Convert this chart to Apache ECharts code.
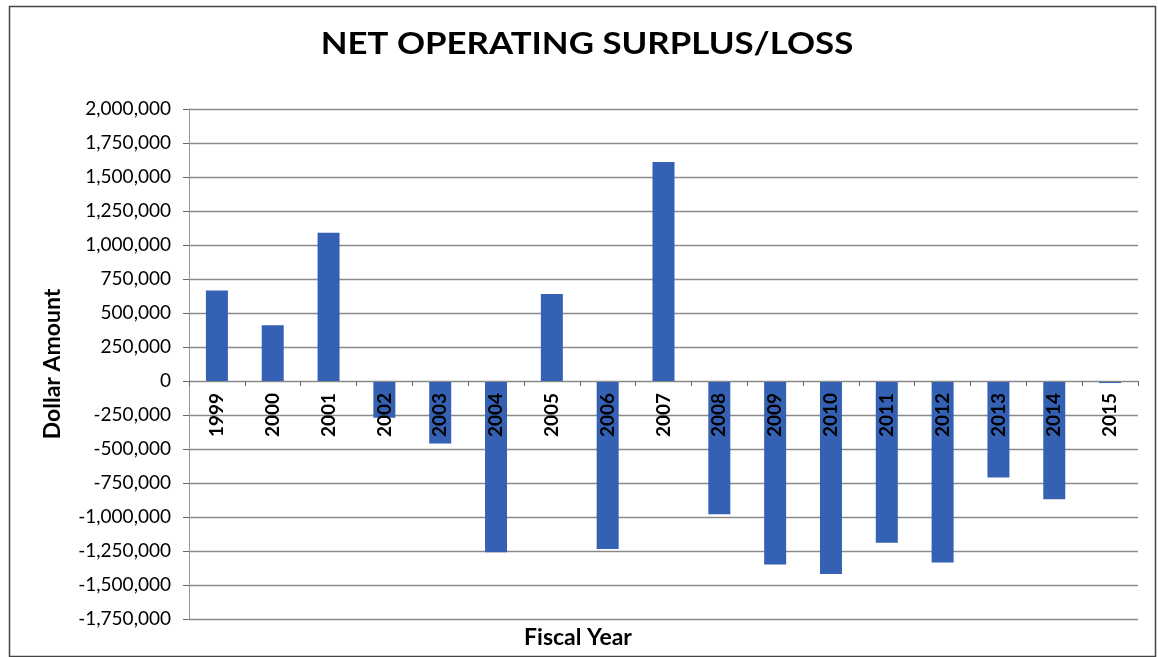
<!DOCTYPE html>
<html>
<head>
<meta charset="utf-8">
<script src="https://cdn.jsdelivr.net/npm/echarts@6/dist/echarts.min.js"></script>
<style>html,body{margin:0;padding:0;background:#fff}#c{width:1158px;height:657px}</style>
</head>
<body>
<div id="c"></div>
<script>
const categories = ['1999','2000','2001','2002','2003','2004','2005','2006','2007','2008','2009','2010','2011','2012','2013','2014','2015'];
const netValues = [665000, 410000, 1090000, -270000, -460000, -1260000, 640000, -1235000, 1610000, -980000, -1350000, -1420000, -1190000, -1335000, -710000, -870000, -15000];
const titleText = 'NET OPERATING SURPLUS/LOSS';
const yAxisName = 'Dollar Amount';
const xAxisName = 'Fiscal Year';
const yMin = -1750000, yMax = 2000000, yStep = 250000;

const chart = echarts.init(document.getElementById('c'), null, {renderer: 'canvas'});
const FONT = 'Lato, "Open Sans", sans-serif';
const gridTop = 109, gridBottom = 38, H = 657;
const plotH = H - gridTop - gridBottom;
// distance from grid bottom edge up to the zero line
const zeroFromBottom = plotH * (0 - yMin) / (yMax - yMin);

chart.setOption({
  animation: false,
  backgroundColor: '#ffffff',
  graphic: [{
    type: 'rect', left: 7, top: 4, shape: {x: 0, y: 0, width: 1146, height: 650},
    style: {fill: 'none', stroke: '#444', lineWidth: 1.5}, silent: true
  }, {
    type: 'text', x: 587, y: 44, scaleX: 1.16, silent: true,
    style: {text: titleText, fontFamily: FONT, fontWeight: 'bold', fontSize: 30, fill: '#000',
      textAlign: 'center', textVerticalAlign: 'middle'}
  }, {
    type: 'text', x: 578, y: 638, silent: true,
    style: {text: xAxisName, fontFamily: FONT, fontWeight: 'bold', fontSize: 23, fill: '#000',
      textAlign: 'center', textVerticalAlign: 'middle'}
  }],
  grid: {left: 189, right: 20, top: gridTop, bottom: gridBottom, containLabel: false, outerBoundsMode: 'none'},
  xAxis: {
    type: 'category', data: categories, position: 'bottom', offset: -zeroFromBottom, z: 10,
    axisLine: {onZero: false, lineStyle: {color: '#888', width: 1}},
    axisTick: {show: true, length: 5, lineStyle: {color: '#666'}},
    axisLabel: {rotate: 90, fontFamily: FONT, fontWeight: 'bold', fontSize: 19, color: '#000', margin: 12}
  },
  yAxis: {
    type: 'value', min: yMin, max: yMax, interval: yStep,
    name: yAxisName, nameLocation: 'middle', nameGap: 125, nameRotate: 90,
    nameTextStyle: {fontFamily: FONT, fontWeight: 'bold', fontSize: 23, color: '#000'},
    axisLine: {show: true, lineStyle: {color: '#999'}},
    axisTick: {show: true, length: 6, lineStyle: {color: '#666'}},
    axisLabel: {
      fontFamily: FONT, fontSize: 19, color: '#000', margin: 18,
      formatter: v => v.toLocaleString('en-US')
    },
    splitLine: {lineStyle: {color: '#8a8a8a', width: 1.3}}
  },
  series: [{
    type: 'bar', data: netValues, barWidth: 22, z: 2,
    itemStyle: {color: '#3561b5'}
  }]
});
</script>
</body>
</html>
